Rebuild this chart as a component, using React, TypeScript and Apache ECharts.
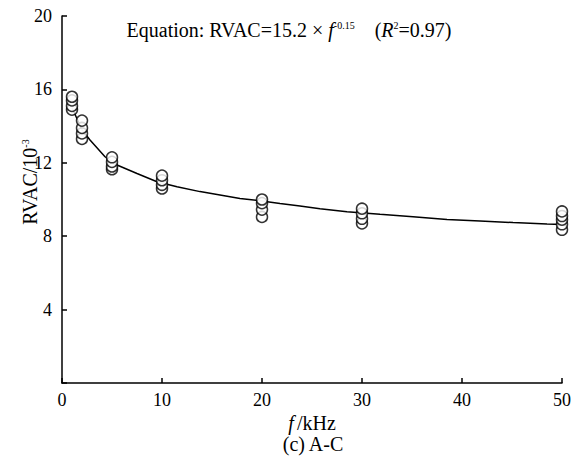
import React, { useEffect, useRef } from "react";
import * as echarts from "echarts";

const freqs = [1, 2, 5, 10, 20, 30, 50];
const measured: number[][] = [
  [14.9, 15.1, 15.4, 15.6],
  [13.3, 13.6, 13.9, 14.3],
  [11.65, 11.8, 12.05, 12.3],
  [10.6, 10.8, 11.05, 11.3],
  [9.05, 9.45, 9.8, 10.0],
  [8.7, 8.95, 9.25, 9.5],
  [8.35, 8.65, 8.9, 9.1, 9.35],
];
const fitF = [1, 2, 2.8, 4.3, 5.5, 7.5, 9.5, 11.5, 13.8, 15.8, 17.8, 19.8, 21.8, 23.8, 25.8, 28.5, 31.8, 35.1, 38.5, 41.8, 45.1, 48.5, 50];
const fitV = [15.0, 13.8, 13.24, 12.33, 11.88, 11.42, 10.97, 10.7, 10.43, 10.25, 10.06, 9.93, 9.78, 9.65, 9.5, 9.33, 9.19, 9.06, 8.91, 8.83, 8.74, 8.66, 8.64];
const xTicks = [0, 10, 20, 30, 40, 50];
const yTicks = [0, 4, 8, 12, 16, 20];

const FONT = "Times New Roman, Liberation Serif, serif";

export default function App() {
  const ref = useRef<HTMLDivElement>(null);
  useEffect(() => {
    if (!ref.current) return;
    const chart = echarts.init(ref.current, undefined, { renderer: "svg" });
    const scatterData: number[][] = [];
    freqs.forEach((f, i) => measured[i].forEach((v) => scatterData.push([f, v])));
    const axisCommon = {
      axisLine: { show: true, lineStyle: { color: "#000", width: 1.5 } },
      axisTick: { show: true, inside: true, length: 5, lineStyle: { color: "#000", width: 1.5 } },
      splitLine: { show: false },
      axisLabel: { color: "#000", fontFamily: FONT, fontSize: 18 },
    };
    chart.setOption({
      animation: false,
      backgroundColor: "#fff",
      textStyle: { fontFamily: FONT },
      grid: { left: 62, right: 23, top: 16, bottom: 76 },
      xAxis: {
        type: "value",
        min: xTicks[0],
        max: xTicks[xTicks.length - 1],
        interval: 10,
        ...axisCommon,
        axisLabel: { ...axisCommon.axisLabel, margin: 8 },
      },
      yAxis: {
        type: "value",
        min: yTicks[0],
        max: yTicks[yTicks.length - 1],
        interval: 4,
        ...axisCommon,
        axisLabel: {
          ...axisCommon.axisLabel,
          margin: 10,
          formatter: (v: number) => (v === 0 ? "" : String(v)),
        },
      },
      series: [
        {
          type: "line",
          data: fitF.map((f, i) => [f, fitV[i]]),
          showSymbol: false,
          symbol: "none",
          lineStyle: { color: "#000", width: 1.5 },
          z: 1,
        },
        {
          type: "scatter",
          data: scatterData,
          symbol: "circle",
          symbolSize: 11,
          itemStyle: { color: "#fff", borderColor: "#000", borderWidth: 1.5 },
          z: 3,
        },
      ],
      graphic: [
        {
          type: "text",
          x: 289,
          y: 30,
          style: {
            text: "{a|Equation: RVAC=15.2 \u00d7 }{i|f}{s|-0.15}{a|    (}{i|R}{s|2}{a|=0.97)}",
            align: "center",
            verticalAlign: "middle",
            rich: {
              a: { fontFamily: FONT, fontSize: 20, color: "#000", lineHeight: 22 },
              i: { fontFamily: FONT, fontSize: 20, fontStyle: "italic", color: "#000", lineHeight: 22 },
              s: { fontFamily: FONT, fontSize: 10, color: "#000", lineHeight: 22, padding: [0, 0, 10, 0] },
            },
          },
        },
        {
          type: "text",
          x: 30,
          y: 182,
          rotation: Math.PI / 2,
          style: {
            text: "{a|RVAC/10}{s|-3}",
            align: "center",
            verticalAlign: "middle",
            rich: {
              a: { fontFamily: FONT, fontSize: 20, color: "#000", lineHeight: 22 },
              s: { fontFamily: FONT, fontSize: 10, color: "#000", lineHeight: 22, padding: [0, 0, 10, 0] },
            },
          },
        },
        {
          type: "text",
          x: 312,
          y: 423,
          style: {
            text: "{i|f} {a|/kHz}",
            align: "center",
            verticalAlign: "middle",
            rich: {
              a: { fontFamily: FONT, fontSize: 20, color: "#000" },
              i: { fontFamily: FONT, fontSize: 20, fontStyle: "italic", color: "#000" },
            },
          },
        },
        {
          type: "text",
          x: 313,
          y: 444,
          style: {
            text: "(c) A-C",
            align: "center",
            verticalAlign: "middle",
            fontFamily: FONT,
            fontSize: 20,
            fill: "#000",
          },
        },
      ],
    });
    return () => chart.dispose();
  }, []);
  return <div ref={ref} style={{ width: 585, height: 459, position: "absolute", left: 0, top: 0 }} />;
}
